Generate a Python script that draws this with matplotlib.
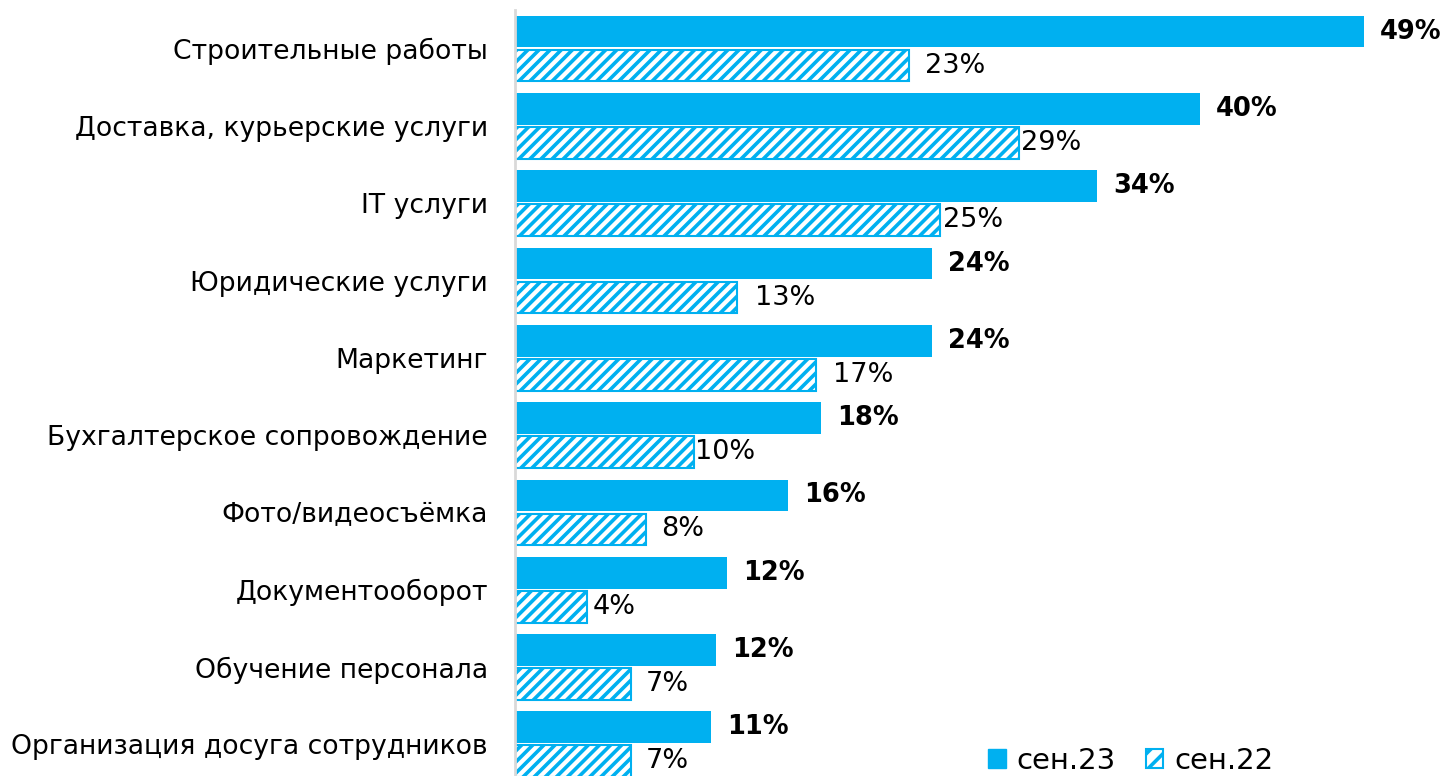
import matplotlib
matplotlib.use("Agg")
import matplotlib.pyplot as plt
from matplotlib.patches import Patch
import numpy as np

categories = ["Строительные работы", "Доставка, курьерские услуги", "IT услуги",
              "Юридические услуги", "Маркетинг", "Бухгалтерское сопровождение",
              "Фото/видеосъёмка", "Документооборот", "Обучение персонала",
              "Организация досуга сотрудников"]
# bar lengths (%)
sep23 = [49.7, 40.1, 34.1, 24.4, 24.4, 17.9, 16.0, 12.4, 11.8, 11.5]
sep22 = [23.1, 29.5, 24.9, 13.0, 17.6, 10.5, 7.7, 4.2, 6.8, 6.8]
# data labels as printed
sep23_labels = ["49%", "40%", "34%", "24%", "24%", "18%", "16%", "12%", "12%", "11%"]
sep22_labels = ["23%", "29%", "25%", "13%", "17%", "10%", "8%", "4%", "7%", "7%"]
series_names = ["сен.23", "сен.22"]

# styling: gap (px) between the hatched bar end and its label
gap22_px = [16, 2, 3, 18, 17, 1, 15, 6, 15, 15]

BLUE = "#00B0F0"
plt.rcParams['font.family'] = ['DejaVu Sans']
plt.rcParams['hatch.linewidth'] = 2.6
plt.rcParams['hatch.color'] = BLUE

DPI = 100
fig = plt.figure(figsize=(14.47, 7.76), dpi=DPI)
W, H = 1447, 776
ax = fig.add_axes([515 / W, 0, (W - 515) / W, 766 / H])

y = np.arange(len(categories))
h = 0.41
ax.barh(y - 0.22, sep23, height=h, color=BLUE, edgecolor=BLUE, linewidth=0)
ax.barh(y + 0.22, sep22, height=h, color="white", edgecolor=BLUE, hatch="///", linewidth=1.5)

ax.set_xlim(0, (W - 515) / 17.075)
ax.set_ylim(9.41, -0.5)
ax.set_yticks(y)
ax.set_yticklabels(categories, fontsize=19.2)
ax.tick_params(axis='y', length=0, pad=19.4)
ax.set_xticks([])
for s in ['top', 'right', 'bottom']:
    ax.spines[s].set_visible(False)
ax.spines['left'].set_color('#d9d9d9')
ax.spines['left'].set_linewidth(2)

px2pt = 72 / DPI
for i in range(len(categories)):
    ax.annotate(sep23_labels[i], (sep23[i], y[i] - 0.22), xytext=(16 * px2pt, 0),
                textcoords='offset points', va='center', ha='left',
                fontsize=18.5, fontweight='bold')
    ax.annotate(sep22_labels[i], (sep22[i], y[i] + 0.22), xytext=(gap22_px[i] * px2pt, 0),
                textcoords='offset points', va='center', ha='left',
                fontsize=19.5)

handles = [Patch(facecolor=BLUE, edgecolor=BLUE),
           Patch(facecolor='white', edgecolor=BLUE, hatch='//', linewidth=1.5)]
fig.legend(handles, series_names, loc='center left', bbox_to_anchor=(988 / W, 1 - 761 / H),
           ncol=2, frameon=False, fontsize=21, handlelength=0.6, handleheight=0.6,
           handletextpad=0.36, columnspacing=1.05, borderaxespad=0, borderpad=0)

fig.savefig("out.png", dpi=DPI)
